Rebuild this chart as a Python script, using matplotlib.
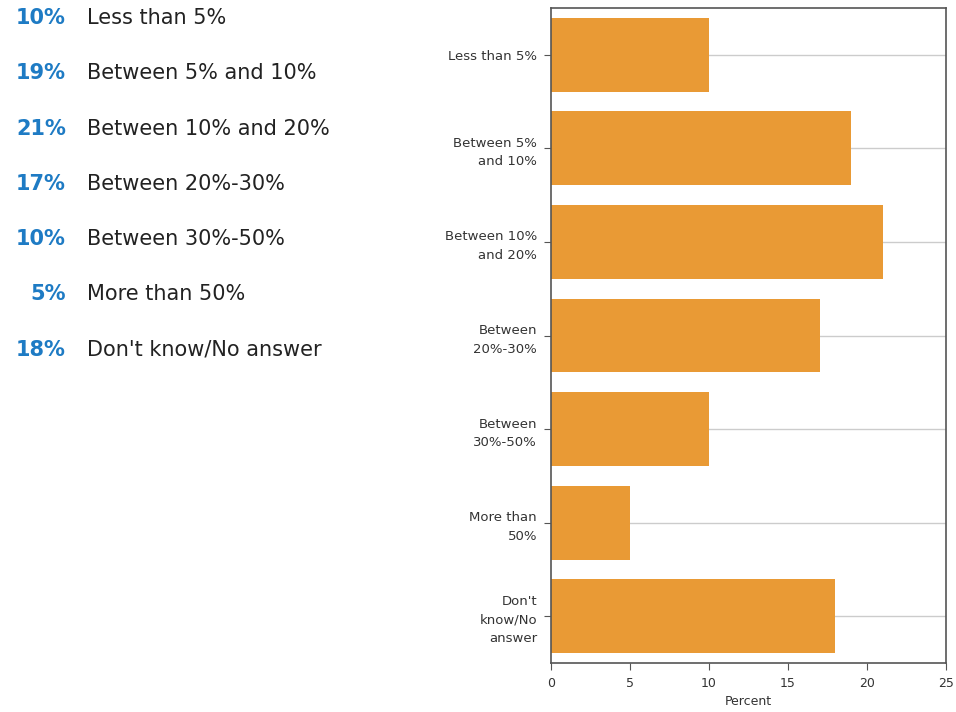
import matplotlib
matplotlib.use("Agg")
import matplotlib.pyplot as plt

categories = ["Less than 5%", "Between 5% and 10%", "Between 10% and 20%",
              "Between 20%-30%", "Between 30%-50%", "More than 50%",
              "Don't know/No answer"]
tick_labels = ["Less than 5%", "Between 5%\nand 10%", "Between 10%\nand 20%",
               "Between\n20%-30%", "Between\n30%-50%", "More than\n50%",
               "Don't\nknow/No\nanswer"]
values = [10, 19, 21, 17, 10, 5, 18]

bar_color = "#E99A35"
pct_color = "#1E7BC4"
text_color = "#222222"

fig = plt.figure(figsize=(9.56, 7.12), dpi=100)

# Summary list on the left
for i, (cat, v) in enumerate(zip(categories, values)):
    y = 1 - (18 + i * 55.3) / 712
    fig.text(66 / 956, y, f"{v}%", ha="right", va="center",
             fontsize=15, fontweight="bold", color=pct_color)
    fig.text(87 / 956, y, cat, ha="left", va="center",
             fontsize=15, color=text_color)

# Horizontal bar chart
ax = fig.add_axes([551 / 956, 1 - 663 / 712, (946 - 551) / 956, (663 - 8) / 712])
pos = list(range(len(values)))
ax.barh(pos, values, height=0.79, color=bar_color, zorder=2)
ax.set_ylim(len(values) - 0.5, -0.5)
ax.set_xlim(0, 25)
ax.set_xticks([0, 5, 10, 15, 20, 25])
ax.set_yticks(pos)
ax.set_yticklabels(tick_labels, fontsize=9.5, color="#333333", ha="right",
                   multialignment="right", linespacing=1.55)
ax.tick_params(axis="y", direction="out", length=5, color="#555555",
               labelsize=9.5, labelcolor="#333333", pad=5)
ax.tick_params(axis="x", direction="out", length=5, color="#555555",
               labelsize=9, labelcolor="#333333", pad=5)
ax.set_xlabel("Percent", fontsize=9, color="#333333", labelpad=4)
ax.grid(axis="y", color="#cccccc", linewidth=1, zorder=0)
for s in ax.spines.values():
    s.set_color("#555555")
    s.set_linewidth(1.2)

fig.savefig("out.png", dpi=100)
